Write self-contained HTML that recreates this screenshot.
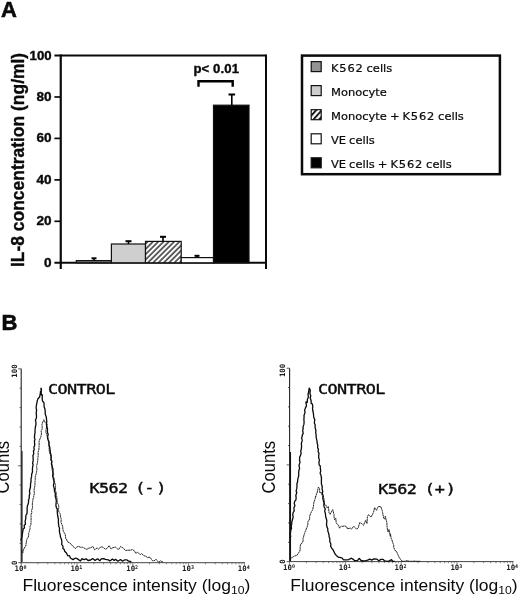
<!DOCTYPE html>
<html lang="en"><head><meta charset="utf-8"><title>Figure: IL-8 concentration and fluorescence intensity</title>
<style>
html,body{margin:0;padding:0;background:#fff}
body{width:520px;height:595px;overflow:hidden}
svg{display:block;will-change:transform}
text{fill:#0a0a0a}
.b{font-family:"Liberation Sans",Arial,Helvetica,sans-serif;font-weight:bold}
.hv{stroke:#0a0a0a;stroke-width:0.35px}
.hv2{stroke:#0a0a0a;stroke-width:0.55px}
.r{font-family:"Liberation Sans",Arial,Helvetica,sans-serif}
.lg{font-family:"DejaVu Sans","Liberation Sans",sans-serif;font-size:11.1px;word-spacing:-0.6px;stroke:#0a0a0a;stroke-width:0.22px}
.mono{font-family:"DejaVu Sans Mono","Liberation Mono",monospace;font-size:14px;letter-spacing:-0.5px;stroke:#0a0a0a;stroke-width:0.38px}
.tk{font-family:"DejaVu Sans Mono","Liberation Mono",monospace;font-size:7.4px;font-weight:bold;fill:#1a1a1a}
.sup{font-size:5px}
</style></head><body>
<svg width="520" height="595" viewBox="0 0 520 595">
<defs>
<pattern id="hatch" width="3.75" height="3.75" patternUnits="userSpaceOnUse" patternTransform="translate(0.8 0) rotate(-45)">
<rect width="3.75" height="3.75" fill="#fff"/><line x1="0" y1="1" x2="3.75" y2="1" stroke="#111" stroke-width="1.3"/>
</pattern>
<pattern id="hatch2" width="4.2" height="4.2" patternUnits="userSpaceOnUse" patternTransform="translate(1.5 0) rotate(-48)">
<rect width="4.2" height="4.2" fill="#fff"/><line x1="0" y1="1" x2="4.2" y2="1" stroke="#111" stroke-width="1.9"/>
</pattern>
</defs>
<rect width="520" height="595" fill="#fff"/>

<text x="0.9" y="17.2" class="b hv2" font-size="22">A</text>
<text x="1.4" y="330.3" class="b hv2" font-size="22">B</text>
<g stroke="#0a0a0a" stroke-width="2" fill="none">
<line x1="60.75" y1="54.5" x2="60.75" y2="269.0" stroke-width="2.2"/>
<line x1="266" y1="54.5" x2="266" y2="269.0"/>
<line x1="54.4" y1="55.5" x2="266" y2="55.5"/>
<line x1="54.4" y1="262.8" x2="266" y2="262.8"/>
<line x1="54.4" y1="221.3" x2="61" y2="221.3" stroke-width="1.7"/>
<line x1="54.4" y1="179.9" x2="61" y2="179.9" stroke-width="1.7"/>
<line x1="54.4" y1="138.4" x2="61" y2="138.4" stroke-width="1.7"/>
<line x1="54.4" y1="97.0" x2="61" y2="97.0" stroke-width="1.7"/>
</g>
<text transform="translate(51.6,266.7) scale(1.14,1)" text-anchor="end" class="b hv" font-size="11.9">0</text>
<text transform="translate(51.6,225.2) scale(1.14,1)" text-anchor="end" class="b hv" font-size="11.9">20</text>
<text transform="translate(51.6,183.8) scale(1.14,1)" text-anchor="end" class="b hv" font-size="11.9">40</text>
<text transform="translate(51.6,142.3) scale(1.14,1)" text-anchor="end" class="b hv" font-size="11.9">60</text>
<text transform="translate(51.6,100.9) scale(1.14,1)" text-anchor="end" class="b hv" font-size="11.9">80</text>
<text transform="translate(51.6,60.2) scale(1.11,1)" text-anchor="end" class="b hv" font-size="11.9">100</text>
<text transform="translate(23.7,267) rotate(-90) scale(1,1.07)" class="b hv" font-size="17.45">IL-8 concentration (ng/ml)</text>
<rect x="76.3" y="260.6" width="35.1" height="2.2" fill="#777" stroke="#111" stroke-width="1.2"/>
<rect x="111.4" y="244" width="34.1" height="18.8" fill="#cfcfcf" stroke="#111" stroke-width="1.2"/>
<rect x="145.5" y="241.4" width="35.7" height="21.4" fill="url(#hatch)" stroke="#111" stroke-width="1.2"/>
<rect x="181.2" y="257.6" width="32.3" height="5.2" fill="#fff" stroke="#111" stroke-width="1.2"/>
<rect x="213.5" y="105.2" width="35.5" height="157.6" fill="#000" stroke="#111" stroke-width="1.2"/>
<line x1="94" y1="260.6" x2="94" y2="258.3" stroke="#000" stroke-width="1.6"/>
<line x1="91.5" y1="258.3" x2="96.5" y2="258.3" stroke="#000" stroke-width="2"/>
<line x1="128.5" y1="244" x2="128.5" y2="241.2" stroke="#000" stroke-width="1.6"/>
<line x1="125.5" y1="241.2" x2="131.5" y2="241.2" stroke="#000" stroke-width="2"/>
<line x1="163" y1="241.4" x2="163" y2="236.8" stroke="#000" stroke-width="1.6"/>
<line x1="160.0" y1="236.8" x2="166.0" y2="236.8" stroke="#000" stroke-width="2"/>
<line x1="197" y1="257.6" x2="197" y2="255.8" stroke="#000" stroke-width="1.6"/>
<line x1="194.5" y1="255.8" x2="199.5" y2="255.8" stroke="#000" stroke-width="2"/>
<line x1="231.8" y1="105.2" x2="231.8" y2="94.5" stroke="#000" stroke-width="1.6"/>
<line x1="228.5" y1="94.5" x2="235.10000000000002" y2="94.5" stroke="#000" stroke-width="2"/>
<path d="M198.5 86.8 V81.2 H232.7 V86.8" fill="none" stroke="#000" stroke-width="2.4"/>
<text transform="translate(193.4,73.3) scale(1.07,1)" class="b hv" font-size="12.3" letter-spacing="0.1">p&lt; 0.01</text>
<rect x="302" y="55.6" width="197.9" height="118.6" fill="#fff" stroke="#0a0a0a" stroke-width="2.5"/>
<rect x="311.2" y="61.6" width="10" height="10" fill="#939393" stroke="#111" stroke-width="1.2"/>
<text transform="translate(331,71.5) scale(1.035,1)" class="lg"><tspan letter-spacing="0.75">K562</tspan> cells</text>
<rect x="311.2" y="85.6" width="10" height="10" fill="#cdcdcd" stroke="#111" stroke-width="1.2"/>
<text transform="translate(331,95.5) scale(1.035,1)" class="lg">Monocyte</text>
<rect x="311.2" y="109.7" width="10" height="10" fill="url(#hatch2)" stroke="#111" stroke-width="1.2"/>
<text transform="translate(331,119.6) scale(1.035,1)" class="lg">Monocyte + <tspan letter-spacing="0.75">K562</tspan> cells</text>
<rect x="311.2" y="133.8" width="10" height="10" fill="#fff" stroke="#111" stroke-width="1.2"/>
<text transform="translate(331,143.7) scale(1.035,1)" class="lg">VE cells</text>
<rect x="311.2" y="157.8" width="10" height="10" fill="#000" stroke="#111" stroke-width="1.2"/>
<text transform="translate(331,167.7) scale(1.035,1)" class="lg">VE cells + <tspan letter-spacing="0.75">K562</tspan> cells</text>
<line x1="21.2" y1="368.8" x2="21.2" y2="563.2" stroke="#222" stroke-width="1.1"/>
<line x1="20.7" y1="562.7" x2="245" y2="562.7" stroke="#444" stroke-width="1"/>
<line x1="18.2" y1="562.7" x2="21.2" y2="562.7" stroke="#333" stroke-width="0.8"/>
<line x1="19.599999999999998" y1="543.3" x2="21.2" y2="543.3" stroke="#333" stroke-width="0.8"/>
<line x1="19.599999999999998" y1="523.9" x2="21.2" y2="523.9" stroke="#333" stroke-width="0.8"/>
<line x1="19.599999999999998" y1="504.5" x2="21.2" y2="504.5" stroke="#333" stroke-width="0.8"/>
<line x1="19.599999999999998" y1="485.1" x2="21.2" y2="485.1" stroke="#333" stroke-width="0.8"/>
<line x1="18.2" y1="465.8" x2="21.2" y2="465.8" stroke="#333" stroke-width="0.8"/>
<line x1="19.599999999999998" y1="446.4" x2="21.2" y2="446.4" stroke="#333" stroke-width="0.8"/>
<line x1="19.599999999999998" y1="427.0" x2="21.2" y2="427.0" stroke="#333" stroke-width="0.8"/>
<line x1="19.599999999999998" y1="407.6" x2="21.2" y2="407.6" stroke="#333" stroke-width="0.8"/>
<line x1="19.599999999999998" y1="388.2" x2="21.2" y2="388.2" stroke="#333" stroke-width="0.8"/>
<line x1="18.2" y1="368.8" x2="21.2" y2="368.8" stroke="#333" stroke-width="0.8"/>
<line x1="21.2" y1="562.7" x2="21.2" y2="565.9000000000001" stroke="#555" stroke-width="0.7"/>
<line x1="38.0" y1="562.7" x2="38.0" y2="564.3000000000001" stroke="#555" stroke-width="0.7"/>
<line x1="47.8" y1="562.7" x2="47.8" y2="564.3000000000001" stroke="#555" stroke-width="0.7"/>
<line x1="54.8" y1="562.7" x2="54.8" y2="564.3000000000001" stroke="#555" stroke-width="0.7"/>
<line x1="60.2" y1="562.7" x2="60.2" y2="564.3000000000001" stroke="#555" stroke-width="0.7"/>
<line x1="64.6" y1="562.7" x2="64.6" y2="564.3000000000001" stroke="#555" stroke-width="0.7"/>
<line x1="68.4" y1="562.7" x2="68.4" y2="564.3000000000001" stroke="#555" stroke-width="0.7"/>
<line x1="71.6" y1="562.7" x2="71.6" y2="564.3000000000001" stroke="#555" stroke-width="0.7"/>
<line x1="74.4" y1="562.7" x2="74.4" y2="564.3000000000001" stroke="#555" stroke-width="0.7"/>
<line x1="77.0" y1="562.7" x2="77.0" y2="565.9000000000001" stroke="#555" stroke-width="0.7"/>
<line x1="93.8" y1="562.7" x2="93.8" y2="564.3000000000001" stroke="#555" stroke-width="0.7"/>
<line x1="103.6" y1="562.7" x2="103.6" y2="564.3000000000001" stroke="#555" stroke-width="0.7"/>
<line x1="110.6" y1="562.7" x2="110.6" y2="564.3000000000001" stroke="#555" stroke-width="0.7"/>
<line x1="116.0" y1="562.7" x2="116.0" y2="564.3000000000001" stroke="#555" stroke-width="0.7"/>
<line x1="120.4" y1="562.7" x2="120.4" y2="564.3000000000001" stroke="#555" stroke-width="0.7"/>
<line x1="124.2" y1="562.7" x2="124.2" y2="564.3000000000001" stroke="#555" stroke-width="0.7"/>
<line x1="127.4" y1="562.7" x2="127.4" y2="564.3000000000001" stroke="#555" stroke-width="0.7"/>
<line x1="130.2" y1="562.7" x2="130.2" y2="564.3000000000001" stroke="#555" stroke-width="0.7"/>
<line x1="132.8" y1="562.7" x2="132.8" y2="565.9000000000001" stroke="#555" stroke-width="0.7"/>
<line x1="149.6" y1="562.7" x2="149.6" y2="564.3000000000001" stroke="#555" stroke-width="0.7"/>
<line x1="159.4" y1="562.7" x2="159.4" y2="564.3000000000001" stroke="#555" stroke-width="0.7"/>
<line x1="166.4" y1="562.7" x2="166.4" y2="564.3000000000001" stroke="#555" stroke-width="0.7"/>
<line x1="171.8" y1="562.7" x2="171.8" y2="564.3000000000001" stroke="#555" stroke-width="0.7"/>
<line x1="176.2" y1="562.7" x2="176.2" y2="564.3000000000001" stroke="#555" stroke-width="0.7"/>
<line x1="180.0" y1="562.7" x2="180.0" y2="564.3000000000001" stroke="#555" stroke-width="0.7"/>
<line x1="183.2" y1="562.7" x2="183.2" y2="564.3000000000001" stroke="#555" stroke-width="0.7"/>
<line x1="186.0" y1="562.7" x2="186.0" y2="564.3000000000001" stroke="#555" stroke-width="0.7"/>
<line x1="188.6" y1="562.7" x2="188.6" y2="565.9000000000001" stroke="#555" stroke-width="0.7"/>
<line x1="205.4" y1="562.7" x2="205.4" y2="564.3000000000001" stroke="#555" stroke-width="0.7"/>
<line x1="215.2" y1="562.7" x2="215.2" y2="564.3000000000001" stroke="#555" stroke-width="0.7"/>
<line x1="222.2" y1="562.7" x2="222.2" y2="564.3000000000001" stroke="#555" stroke-width="0.7"/>
<line x1="227.6" y1="562.7" x2="227.6" y2="564.3000000000001" stroke="#555" stroke-width="0.7"/>
<line x1="232.0" y1="562.7" x2="232.0" y2="564.3000000000001" stroke="#555" stroke-width="0.7"/>
<line x1="235.8" y1="562.7" x2="235.8" y2="564.3000000000001" stroke="#555" stroke-width="0.7"/>
<line x1="239.0" y1="562.7" x2="239.0" y2="564.3000000000001" stroke="#555" stroke-width="0.7"/>
<line x1="241.8" y1="562.7" x2="241.8" y2="564.3000000000001" stroke="#555" stroke-width="0.7"/>
<line x1="244.4" y1="562.7" x2="244.4" y2="565.9000000000001" stroke="#555" stroke-width="0.7"/>
<text x="14.6" y="571.3" class="tk">10<tspan dy="-2.2" class="sup">0</tspan></text>
<text x="70.4" y="571.3" class="tk">10<tspan dy="-2.2" class="sup">1</tspan></text>
<text x="126.2" y="571.3" class="tk">10<tspan dy="-2.2" class="sup">2</tspan></text>
<text x="182.0" y="571.3" class="tk">10<tspan dy="-2.2" class="sup">3</tspan></text>
<text x="237.8" y="571.3" class="tk">10<tspan dy="-2.2" class="sup">4</tspan></text>
<text transform="translate(16.9,377.7) rotate(-90)" class="tk">100</text>
<text transform="translate(16.9,564.9) rotate(-90)" class="tk">0</text>
<line x1="289.6" y1="368.2" x2="289.6" y2="562.1" stroke="#222" stroke-width="1.1"/>
<line x1="289.1" y1="561.6" x2="513.5" y2="561.6" stroke="#444" stroke-width="1"/>
<line x1="286.6" y1="561.6" x2="289.6" y2="561.6" stroke="#333" stroke-width="0.8"/>
<line x1="288.0" y1="542.3" x2="289.6" y2="542.3" stroke="#333" stroke-width="0.8"/>
<line x1="288.0" y1="522.9" x2="289.6" y2="522.9" stroke="#333" stroke-width="0.8"/>
<line x1="288.0" y1="503.6" x2="289.6" y2="503.6" stroke="#333" stroke-width="0.8"/>
<line x1="288.0" y1="484.2" x2="289.6" y2="484.2" stroke="#333" stroke-width="0.8"/>
<line x1="286.6" y1="464.9" x2="289.6" y2="464.9" stroke="#333" stroke-width="0.8"/>
<line x1="288.0" y1="445.6" x2="289.6" y2="445.6" stroke="#333" stroke-width="0.8"/>
<line x1="288.0" y1="426.2" x2="289.6" y2="426.2" stroke="#333" stroke-width="0.8"/>
<line x1="288.0" y1="406.9" x2="289.6" y2="406.9" stroke="#333" stroke-width="0.8"/>
<line x1="288.0" y1="387.5" x2="289.6" y2="387.5" stroke="#333" stroke-width="0.8"/>
<line x1="286.6" y1="368.2" x2="289.6" y2="368.2" stroke="#333" stroke-width="0.8"/>
<line x1="289.6" y1="561.6" x2="289.6" y2="564.8000000000001" stroke="#555" stroke-width="0.7"/>
<line x1="306.4" y1="561.6" x2="306.4" y2="563.2" stroke="#555" stroke-width="0.7"/>
<line x1="316.2" y1="561.6" x2="316.2" y2="563.2" stroke="#555" stroke-width="0.7"/>
<line x1="323.2" y1="561.6" x2="323.2" y2="563.2" stroke="#555" stroke-width="0.7"/>
<line x1="328.6" y1="561.6" x2="328.6" y2="563.2" stroke="#555" stroke-width="0.7"/>
<line x1="333.0" y1="561.6" x2="333.0" y2="563.2" stroke="#555" stroke-width="0.7"/>
<line x1="336.8" y1="561.6" x2="336.8" y2="563.2" stroke="#555" stroke-width="0.7"/>
<line x1="340.0" y1="561.6" x2="340.0" y2="563.2" stroke="#555" stroke-width="0.7"/>
<line x1="342.8" y1="561.6" x2="342.8" y2="563.2" stroke="#555" stroke-width="0.7"/>
<line x1="345.4" y1="561.6" x2="345.4" y2="564.8000000000001" stroke="#555" stroke-width="0.7"/>
<line x1="362.2" y1="561.6" x2="362.2" y2="563.2" stroke="#555" stroke-width="0.7"/>
<line x1="372.0" y1="561.6" x2="372.0" y2="563.2" stroke="#555" stroke-width="0.7"/>
<line x1="379.0" y1="561.6" x2="379.0" y2="563.2" stroke="#555" stroke-width="0.7"/>
<line x1="384.4" y1="561.6" x2="384.4" y2="563.2" stroke="#555" stroke-width="0.7"/>
<line x1="388.8" y1="561.6" x2="388.8" y2="563.2" stroke="#555" stroke-width="0.7"/>
<line x1="392.6" y1="561.6" x2="392.6" y2="563.2" stroke="#555" stroke-width="0.7"/>
<line x1="395.8" y1="561.6" x2="395.8" y2="563.2" stroke="#555" stroke-width="0.7"/>
<line x1="398.6" y1="561.6" x2="398.6" y2="563.2" stroke="#555" stroke-width="0.7"/>
<line x1="401.2" y1="561.6" x2="401.2" y2="564.8000000000001" stroke="#555" stroke-width="0.7"/>
<line x1="418.0" y1="561.6" x2="418.0" y2="563.2" stroke="#555" stroke-width="0.7"/>
<line x1="427.8" y1="561.6" x2="427.8" y2="563.2" stroke="#555" stroke-width="0.7"/>
<line x1="434.8" y1="561.6" x2="434.8" y2="563.2" stroke="#555" stroke-width="0.7"/>
<line x1="440.2" y1="561.6" x2="440.2" y2="563.2" stroke="#555" stroke-width="0.7"/>
<line x1="444.6" y1="561.6" x2="444.6" y2="563.2" stroke="#555" stroke-width="0.7"/>
<line x1="448.4" y1="561.6" x2="448.4" y2="563.2" stroke="#555" stroke-width="0.7"/>
<line x1="451.6" y1="561.6" x2="451.6" y2="563.2" stroke="#555" stroke-width="0.7"/>
<line x1="454.4" y1="561.6" x2="454.4" y2="563.2" stroke="#555" stroke-width="0.7"/>
<line x1="457.0" y1="561.6" x2="457.0" y2="564.8000000000001" stroke="#555" stroke-width="0.7"/>
<line x1="473.8" y1="561.6" x2="473.8" y2="563.2" stroke="#555" stroke-width="0.7"/>
<line x1="483.6" y1="561.6" x2="483.6" y2="563.2" stroke="#555" stroke-width="0.7"/>
<line x1="490.6" y1="561.6" x2="490.6" y2="563.2" stroke="#555" stroke-width="0.7"/>
<line x1="496.0" y1="561.6" x2="496.0" y2="563.2" stroke="#555" stroke-width="0.7"/>
<line x1="500.4" y1="561.6" x2="500.4" y2="563.2" stroke="#555" stroke-width="0.7"/>
<line x1="504.2" y1="561.6" x2="504.2" y2="563.2" stroke="#555" stroke-width="0.7"/>
<line x1="507.4" y1="561.6" x2="507.4" y2="563.2" stroke="#555" stroke-width="0.7"/>
<line x1="510.2" y1="561.6" x2="510.2" y2="563.2" stroke="#555" stroke-width="0.7"/>
<line x1="512.8" y1="561.6" x2="512.8" y2="564.8000000000001" stroke="#555" stroke-width="0.7"/>
<text x="283.0" y="570.2" class="tk">10<tspan dy="-2.2" class="sup">0</tspan></text>
<text x="338.8" y="570.2" class="tk">10<tspan dy="-2.2" class="sup">1</tspan></text>
<text x="394.6" y="570.2" class="tk">10<tspan dy="-2.2" class="sup">2</tspan></text>
<text x="450.4" y="570.2" class="tk">10<tspan dy="-2.2" class="sup">3</tspan></text>
<text x="506.2" y="570.2" class="tk">10<tspan dy="-2.2" class="sup">4</tspan></text>
<text transform="translate(285.3,377.1) rotate(-90)" class="tk">100</text>
<text transform="translate(285.3,563.8) rotate(-90)" class="tk">0</text>
<path d="M21.4 550.1 L22.7 553.1 L23.4 550.0 L24.2 548.3 L25.0 546.8 L25.8 546.0 L26.2 543.0 L26.6 540.4 L27.1 538.5 L28.3 537.5 L28.7 534.3 L28.6 533.8 L29.3 531.4 L30.1 528.6 L30.0 526.2 L30.9 524.7 L31.0 521.8 L31.1 520.5 L31.1 517.6 L31.0 514.6 L31.9 512.4 L31.5 510.6 L32.5 508.0 L32.5 507.5 L32.3 504.0 L32.7 501.8 L32.9 499.2 L33.8 497.3 L33.6 496.8 L34.4 493.0 L34.0 491.0 L34.3 488.2 L34.7 487.1 L35.0 484.3 L35.0 481.6 L35.3 479.6 L35.2 477.2 L35.6 475.5 L36.2 473.8 L36.5 471.9 L37.0 469.6 L36.6 466.6 L36.7 465.6 L37.4 462.8 L37.9 459.0 L37.8 458.5 L38.2 455.8 L38.1 452.2 L38.7 450.6 L38.9 449.0 L39.1 446.1 L39.1 444.0 L39.2 440.7 L40.3 438.2 L41.1 436.1 L41.2 435.0 L41.5 433.1 L41.1 430.7 L42.1 429.3 L42.2 426.6 L41.9 424.8 L42.4 422.9 L43.9 419.7 L45.3 422.8 L47.5 424.5 L46.5 426.0 L46.4 428.0 L45.9 430.6 L45.9 432.6 L46.7 433.9 L47.4 437.5 L47.5 439.1 L48.1 440.0 L48.9 443.5 L48.7 445.6 L49.2 447.4 L49.1 449.4 L49.5 452.4 L50.6 454.7 L50.4 454.7 L51.2 458.6 L50.7 459.9 L51.8 461.4 L51.8 463.5 L52.0 465.5 L51.9 469.3 L52.7 471.1 L53.2 473.4 L53.8 474.0 L53.1 476.6 L54.0 477.7 L54.1 480.7 L54.5 482.1 L55.4 484.6 L55.6 486.2 L55.3 490.3 L56.3 492.8 L56.1 495.0 L56.6 496.1 L57.1 499.7 L57.3 500.6 L57.2 502.7 L58.4 504.6 L58.9 507.3 L58.5 509.4 L58.9 512.0 L60.2 513.7 L60.5 516.8 L61.1 518.3 L61.1 521.0 L61.0 522.5 L61.9 524.5 L62.8 526.8 L62.7 527.9 L63.4 531.5 L64.2 532.7 L65.3 534.6 L65.7 538.4 L66.8 540.0 L67.9 542.2 L69.1 542.5 L71.4 544.4 L72.7 546.2 L75.5 548.5 L76.6 547.1 L78.5 546.4 L80.6 547.3 L82.7 547.2 L85.4 548.8 L86.9 549.3 L89.0 548.0 L90.8 547.7 L92.8 546.4 L94.6 549.8 L97.1 547.9 L98.7 549.2 L100.7 546.8 L102.9 547.2 L105.4 549.2 L106.5 548.9 L109.2 545.7 L111.0 549.0 L112.5 547.8 L115.5 547.1 L117.4 548.9 L118.7 549.5 L120.6 546.4 L123.2 548.1 L125.6 550.5 L128.0 550.2 L130.1 550.3 L132.3 549.5 L134.5 551.0 L135.8 553.3 L137.7 552.1 L140.2 554.8 L141.5 553.5 L144.1 555.8 L145.7 556.1 L147.5 557.6 L150.0 557.2 L152.2 560.5 L154.0 561.0 L156.0 559.2 L158.7 562.4 L160.2 560.8 L163.2 562.2" fill="none" stroke="#1c1c1c" stroke-width="0.95" stroke-linejoin="bevel" stroke-dasharray="2.2 0.35"/>
<path d="M20.9 540.7 L21.2 538.9 L22.0 536.4 L22.5 533.2 L22.9 531.2 L23.0 529.2 L24.4 527.9 L24.2 525.3 L25.5 524.2 L25.2 522.1 L25.2 520.9 L25.8 518.6 L25.9 515.4 L27.0 513.7 L27.1 511.4 L27.2 510.3 L27.1 508.1 L27.6 505.2 L28.1 504.3 L28.6 501.7 L28.5 499.9 L29.2 498.4 L29.3 495.3 L29.9 493.6 L29.5 491.8 L29.6 490.2 L30.5 487.0 L30.5 484.4 L30.9 481.9 L31.1 481.0 L31.0 478.9 L31.6 476.4 L31.7 473.9 L32.5 472.1 L32.4 469.2 L32.7 466.2 L33.2 465.1 L32.6 463.3 L33.2 460.4 L33.1 457.6 L32.9 455.7 L33.8 453.4 L33.4 451.4 L34.2 449.7 L33.9 447.0 L34.6 445.8 L34.7 444.1 L34.4 441.0 L35.1 439.0 L34.4 438.0 L34.7 434.4 L35.1 432.3 L35.0 430.8 L35.3 427.5 L35.6 426.0 L35.9 424.9 L35.9 421.9 L35.4 420.0 L36.4 418.2 L36.5 415.9 L36.2 412.9 L36.6 410.2 L36.1 407.9 L36.3 406.0 L36.7 403.8 L37.3 400.6 L38.0 398.7 L40.0 396.5 L39.7 396.4 L40.4 393.2 L40.4 391.6 L41.5 391.1 L41.2 387.9 L40.9 388.7 L41.2 391.5 L41.3 395.1 L42.3 394.5 L42.2 399.1 L42.5 401.0 L44.0 402.8 L44.1 406.1 L44.1 406.8 L44.9 408.9 L45.3 411.9 L45.1 413.8 L46.3 416.9 L46.5 419.3 L46.8 421.5 L46.7 422.5 L46.4 424.8 L46.8 426.3 L47.5 428.8 L47.4 432.2 L48.2 434.2 L47.7 436.3 L47.7 437.1 L48.0 439.2 L49.1 442.1 L49.0 444.7 L49.6 446.5 L49.8 447.6 L50.3 451.3 L50.3 453.2 L50.9 454.2 L51.2 456.6 L51.0 459.8 L51.9 460.9 L51.4 463.5 L51.6 464.6 L52.6 468.0 L53.0 468.8 L52.9 472.5 L53.0 473.6 L52.6 475.4 L53.4 479.2 L53.9 480.6 L54.0 482.7 L53.4 485.6 L53.8 486.8 L54.4 489.1 L54.5 491.4 L55.4 493.4 L55.2 496.1 L56.0 498.8 L56.3 500.8 L56.1 503.2 L55.9 505.5 L56.4 507.6 L57.3 509.1 L57.2 511.7 L57.6 515.0 L57.8 516.5 L58.4 519.2 L58.4 520.7 L58.4 523.2 L58.9 526.4 L59.5 528.3 L59.4 531.2 L59.7 532.9 L60.2 535.0 L60.5 537.1 L61.5 539.4 L61.9 542.0 L61.7 544.6 L63.0 546.1 L62.9 548.6 L64.1 549.3 L64.7 551.2 L66.4 553.0 L67.9 556.0 L69.4 555.5 L70.4 558.0 L73.0 559.6 L75.5 558.0 L77.5 558.9 L80.4 561.0 L82.1 558.6 L84.1 559.7 L86.2 558.8 L88.0 560.5 L90.6 560.0 L92.7 558.5 L95.0 560.4 L97.7 558.7 L99.8 560.9 L101.2 558.8 L103.9 558.6 L105.3 559.3 L108.3 559.8 L109.7 561.0 L112.5 559.1 L114.2 560.5 L115.5 559.2 L117.9 561.2 L120.5 559.5 L122.5 561.3 L124.8 559.8 L127.0 559.9 L128.6 561.2 L131.5 561.7" fill="none" stroke="#0a0a0a" stroke-width="1.3" stroke-linejoin="bevel"/>
<path d="M290.1 558.9 L293.3 556.7 L294.8 555.9 L296.9 555.4 L298.0 553.6 L299.7 551.4 L300.2 549.2 L300.1 546.5 L300.9 543.8 L301.9 543.3 L303.1 541.0 L303.0 538.0 L303.4 537.4 L304.4 533.7 L305.0 532.0 L305.9 530.3 L306.1 529.2 L307.0 527.3 L308.0 524.0 L307.7 522.3 L308.9 519.8 L309.6 519.8 L309.6 516.6 L310.6 513.5 L310.9 513.0 L311.6 511.3 L312.6 510.1 L313.4 506.3 L313.7 503.4 L314.0 502.0 L315.2 498.7 L315.6 496.2 L315.7 496.8 L316.8 493.1 L317.4 492.0 L317.5 490.6 L318.4 487.1 L319.5 488.6 L319.8 492.6 L320.4 492.7 L321.0 492.1 L321.6 494.1 L321.8 493.8 L322.4 495.8 L323.8 498.4 L324.5 502.5 L324.5 504.6 L325.8 505.0 L327.0 507.7 L328.4 506.6 L329.1 512.8 L330.1 514.3 L332.7 509.6 L334.1 514.7 L334.0 516.9 L334.6 519.9 L335.8 518.2 L336.2 522.8 L337.6 524.7 L338.5 525.2 L339.6 528.2 L341.3 526.1 L342.8 526.4 L344.8 525.9 L346.7 526.8 L347.4 528.9 L350.4 528.1 L351.6 529.1 L353.7 526.2 L356.6 529.2 L358.3 527.8 L359.6 522.7 L361.3 523.2 L363.5 525.4 L365.6 520.4 L367.0 523.5 L367.4 516.6 L368.5 514.7 L371.0 517.1 L372.8 513.8 L373.5 512.3 L374.6 507.6 L376.4 510.3 L378.4 506.4 L380.7 506.6 L382.1 510.1 L382.6 512.5 L383.6 518.0 L384.7 519.2 L385.3 516.2 L386.4 520.9 L386.9 522.6 L387.0 526.0 L387.5 530.2 L388.2 532.1 L388.9 529.4 L390.3 536.2 L390.4 533.8 L391.3 538.9 L391.7 539.4 L392.9 543.1 L393.7 545.1 L393.7 547.4 L395.0 550.5 L396.2 551.0 L397.3 553.2 L398.8 556.6 L399.8 558.7 L401.1 559.6 L402.0 561.3 L404.4 561.3 L407.0 560.7 L409.6 561.3 L412.4 561.3 L414.2 561.1 L416.8 561.3 L418.9 561.3 L420.8 561.3" fill="none" stroke="#1c1c1c" stroke-width="0.95" stroke-linejoin="bevel" stroke-dasharray="2.2 0.35"/>
<path d="M289.7 537.9 L290.7 536.3 L290.0 533.5 L290.7 531.7 L290.7 530.3 L291.5 528.4 L291.2 525.7 L291.7 524.4 L291.8 522.0 L292.7 518.8 L293.2 516.8 L292.7 515.0 L293.2 512.3 L294.2 510.9 L293.9 507.7 L294.9 505.6 L294.2 503.2 L294.9 500.9 L295.8 500.2 L296.2 497.6 L295.8 495.8 L296.8 492.3 L296.1 491.2 L296.7 488.9 L297.0 486.2 L296.9 483.7 L297.6 481.7 L297.6 480.8 L297.9 478.6 L298.8 475.3 L298.6 473.9 L298.9 470.3 L299.6 468.7 L299.2 466.1 L299.0 465.2 L300.1 462.1 L299.5 460.5 L299.7 456.9 L300.2 456.2 L301.1 453.6 L300.7 450.6 L301.3 449.5 L301.6 445.9 L301.3 443.8 L302.1 440.9 L302.2 440.3 L301.7 438.1 L302.5 434.5 L303.2 433.6 L302.7 430.4 L303.2 428.2 L303.0 426.9 L303.9 424.4 L304.1 422.2 L303.9 419.6 L304.1 416.9 L304.0 415.5 L305.1 412.4 L304.6 410.4 L305.4 407.9 L306.2 406.4 L306.5 405.8 L305.8 401.7 L307.0 402.7 L307.2 402.7 L307.4 399.1 L307.9 398.4 L308.4 396.8 L308.0 394.3 L308.5 392.6 L309.0 389.5 L309.2 387.8 L309.4 388.4 L310.3 390.3 L309.9 393.9 L310.8 395.5 L310.2 398.0 L311.2 401.0 L311.1 403.6 L312.4 403.9 L312.8 406.9 L312.5 407.7 L312.7 410.2 L313.5 414.0 L313.6 416.2 L314.1 418.4 L314.8 419.6 L314.3 423.0 L315.1 424.5 L315.1 426.0 L315.2 428.0 L315.9 430.4 L315.7 433.3 L316.1 434.2 L316.2 437.5 L316.5 438.9 L317.2 441.8 L317.0 442.6 L317.8 445.2 L317.6 447.8 L318.4 449.0 L318.1 451.5 L319.0 453.4 L318.7 455.5 L318.7 457.7 L319.5 460.7 L318.9 462.0 L319.2 464.9 L320.2 465.8 L320.4 468.8 L320.7 470.9 L320.1 473.3 L320.8 474.7 L321.5 478.0 L321.4 479.3 L321.4 482.0 L321.4 483.9 L322.3 486.8 L322.0 488.3 L322.8 491.8 L322.2 492.9 L323.4 496.4 L322.7 497.8 L323.4 500.8 L324.0 503.0 L323.8 505.0 L324.2 507.2 L325.2 508.7 L324.7 511.7 L325.3 512.8 L325.6 515.5 L325.7 517.0 L326.8 520.3 L326.8 521.2 L326.5 524.7 L327.0 527.1 L327.8 528.8 L327.8 531.0 L328.5 532.9 L329.0 535.0 L329.2 537.2 L329.8 538.6 L329.8 541.6 L330.9 544.3 L330.6 545.9 L331.6 548.1 L332.9 549.5 L333.9 551.6 L334.9 553.8 L336.3 555.4 L338.5 557.3 L339.6 557.3 L341.9 557.9 L343.6 559.9 L346.7 559.8 L348.7 559.6 L351.1 558.2 L353.3 559.3 L354.6 560.7 L357.6 560.4 L359.1 558.3 L361.1 560.5 L363.3 561.0 L365.3 560.8 L368.3 559.9 L369.7 559.1 L371.9 560.1 L373.9 558.8 L376.9 559.2 L379.0 560.8 L381.0 559.4 L382.9 559.3 L384.8 560.9 L387.1 561.3 L389.4 560.9 L391.5 559.6 L392.9 561.3 L394.7 561.3" fill="none" stroke="#0a0a0a" stroke-width="1.3" stroke-linejoin="bevel"/>
<line x1="22.0" y1="451" x2="22.0" y2="562" stroke="#111" stroke-width="1.1"/>
<line x1="290.5" y1="452" x2="290.5" y2="561" stroke="#111" stroke-width="1.1"/>
<text transform="translate(48.1,394.4) scale(1.2,1)" class="mono">CONTROL</text>
<text transform="translate(318.1,394.2) scale(1.2,1)" class="mono">CONTROL</text>
<text transform="translate(89.6,492.6) scale(1.2,1)" class="mono">K562 <tspan dx="-1.5">(</tspan><tspan dx="-0.6">-</tspan><tspan dx="2.1">)</tspan></text>
<text transform="translate(378.2,494.3) scale(1.2,1)" class="mono">K562 <tspan dx="-0.8">(</tspan><tspan dx="0.4">+</tspan><tspan dx="1.2">)</tspan></text>
<text transform="translate(9,493.4) rotate(-90) scale(1,1.075)" class="r" font-size="16.6">Counts</text>
<text transform="translate(274.5,493.4) rotate(-90) scale(1,1.075)" class="r" font-size="16.6">Counts</text>
<text transform="translate(22.5,590.9) scale(1.05,1)" class="r" font-size="16.7">Fluorescence intensity (log<tspan dy="3.3" font-size="11.6">10</tspan><tspan dy="-3.3">)</tspan></text>
<text transform="translate(290.2,590.9) scale(1.048,1)" class="r" font-size="16.7">Fluorescence intensity (log<tspan dy="3.3" font-size="11.6">10</tspan><tspan dy="-3.3">)</tspan></text>
</svg>
</body></html>
